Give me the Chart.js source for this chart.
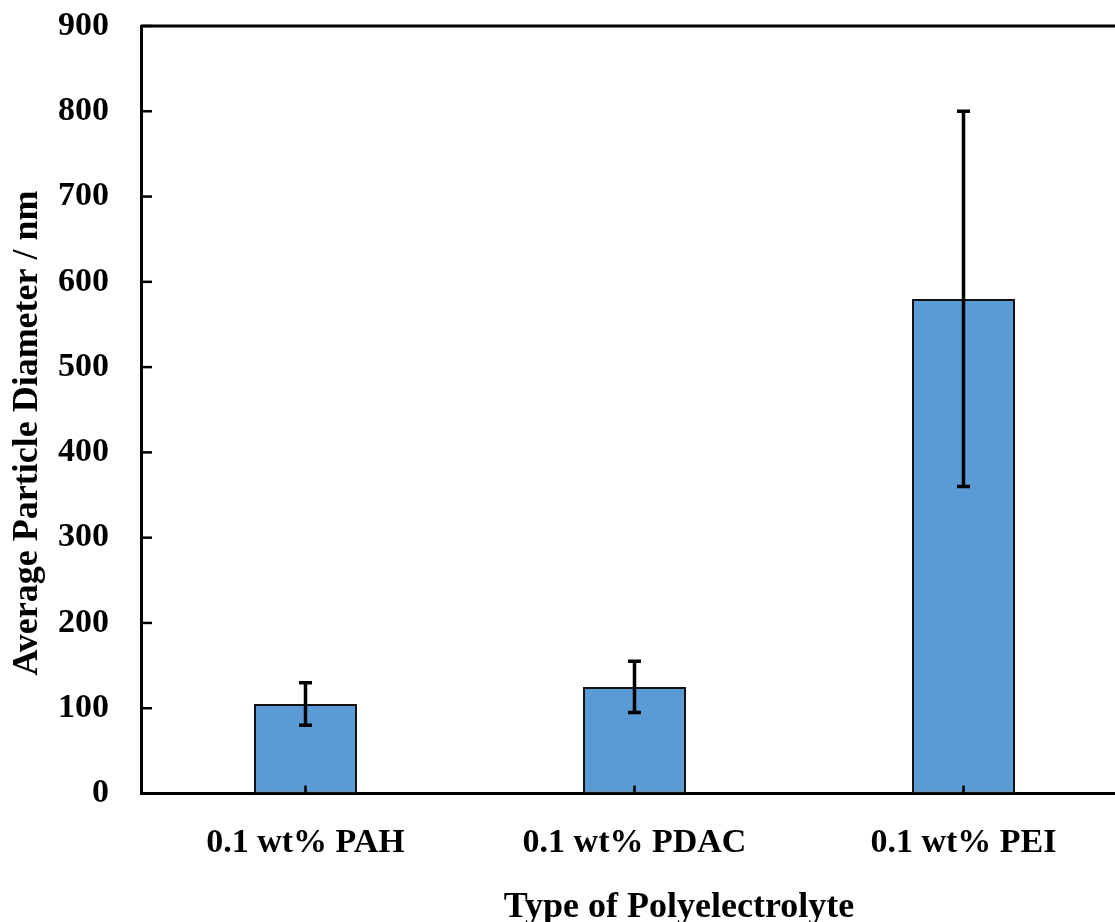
<!DOCTYPE html>
<html>
<head>
<meta charset="utf-8">
<script src="https://cdn.jsdelivr.net/npm/chart.js@4.4.1/dist/chart.umd.min.js"></script>
<style>
  html, body { margin: 0; padding: 0; background: #fff; overflow: hidden; }
  #wrap { width: 1135px; height: 945px; }
</style>
</head>
<body>
<div id="wrap"><canvas id="barChart"></canvas></div>
<script>
// ================= DATA =================
const categories = ["0.1 wt% PAH", "0.1 wt% PDAC", "0.1 wt% PEI"];
const diameters = [105, 125, 580];
const errors = [25, 30, 220];
const yTicks = [0, 100, 200, 300, 400, 500, 600, 700, 800, 900];

const xTitle = "Type of Polyelectrolyte";
const yTitle = "Average Particle Diameter / nm";

const serif = "'Liberation Serif', 'Times New Roman', serif";

// ================= FRAME, TICKS, ERROR BARS, TITLES =================
const decorations = {
    id: "decorations",
    afterDatasetsDraw(chart) {
        let ctx = chart.ctx;
        let area = chart.chartArea;
        let x = chart.scales.x;
        let y = chart.scales.y;

        ctx.save();
        ctx.strokeStyle = "#000";

        // top frame line
        ctx.lineWidth = 3;
        ctx.beginPath();
        ctx.moveTo(area.left, area.top);
        ctx.lineTo(chart.width, area.top);
        ctx.stroke();

        // inward tick marks on y axis
        ctx.lineWidth = 2.5;
        yTicks.forEach(v => {
            let py = y.getPixelForValue(v);
            ctx.beginPath();
            ctx.moveTo(area.left, py);
            ctx.lineTo(area.left + 11, py);
            ctx.stroke();
        });

        // inward tick marks on x axis
        categories.forEach((c, i) => {
            let px = x.getPixelForValue(i);
            ctx.beginPath();
            ctx.moveTo(px, area.bottom);
            ctx.lineTo(px, area.bottom - 8);
            ctx.stroke();
        });

        // error bars
        ctx.lineWidth = 3.5;
        diameters.forEach((v, i) => {
            let px = x.getPixelForValue(i);
            let hi = y.getPixelForValue(v + errors[i]);
            let lo = y.getPixelForValue(v - errors[i]);
            ctx.beginPath();
            ctx.moveTo(px, hi);
            ctx.lineTo(px, lo);
            ctx.moveTo(px - 6.5, hi);
            ctx.lineTo(px + 6.5, hi);
            ctx.moveTo(px - 6.5, lo);
            ctx.lineTo(px + 6.5, lo);
            ctx.stroke();
        });

        // axis titles
        ctx.fillStyle = "#000";
        ctx.font = "bold 36px " + serif;
        ctx.textAlign = "center";
        ctx.textBaseline = "alphabetic";
        ctx.fillText(xTitle, 679, 917);

        ctx.translate(37, 433);
        ctx.rotate(-Math.PI / 2);
        ctx.fillText(yTitle, 0, 0);

        ctx.restore();
    }
};

// ================= CHART =================
new Chart(document.getElementById("barChart"), {
    type: "bar",
    data: {
        labels: categories,
        datasets: [{
            data: diameters,
            backgroundColor: "#5B9BD5",
            borderColor: "#111",
            borderWidth: 2,
            borderSkipped: false,
            categoryPercentage: 1.0,
            barPercentage: 0.313
        }]
    },
    options: {
        responsive: true,
        maintainAspectRatio: false,
        animation: false,
        layout: { padding: { top: 26, right: 7, left: 0, bottom: 0 } },
        plugins: {
            legend: { display: false },
            tooltip: { enabled: false }
        },
        scales: {
            x: {
                grid: { display: false, drawTicks: false },
                border: { display: true, color: "#000", width: 3 },
                ticks: {
                    color: "#000",
                    padding: 29,
                    maxRotation: 0,
                    font: { family: serif, size: 34, weight: "bold" }
                },
                afterFit(scale) { scale.height = 151.5; }
            },
            y: {
                min: 0,
                max: 900,
                afterBuildTicks(scale) {
                    scale.ticks = yTicks.map(v => ({ value: v }));
                },
                grid: { display: false, drawTicks: false },
                border: { display: true, color: "#000", width: 3 },
                ticks: {
                    color: "#000",
                    padding: 32,
                    font: { family: serif, size: 34, weight: "bold" }
                },
                afterFit(scale) {
                    scale.width = 141;
                    scale.paddingTop = 0;
                    scale.paddingBottom = 0;
                }
            }
        }
    },
    plugins: [decorations]
});
</script>
</body>
</html>
